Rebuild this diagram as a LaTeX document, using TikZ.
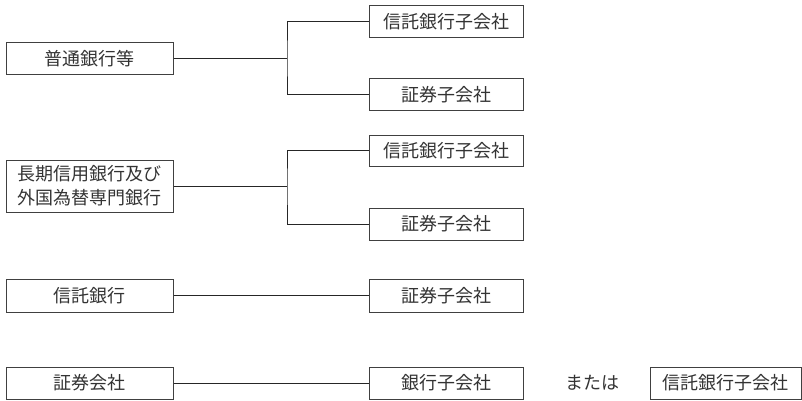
\documentclass[tikz,border=0pt]{standalone}
\usepackage{fontspec}
\setmainfont{Noto Sans CJK JP}
\begin{document}
\begin{tikzpicture}[x=1pt,y=-1pt,
  txt/.style={font=\fontsize{18}{24}\selectfont,text=black!80},
  box/.style={txt,draw=black!75,line width=1pt,rectangle,inner sep=0pt,minimum height=32pt},
  lbox/.style={box,minimum width=167pt},
  rbox/.style={box,minimum width=154pt},
  conn/.style={draw=black!85,line width=1pt}]
\useasboundingbox (0,0) rectangle (802,401);
% group 1
\node[lbox] (A) at (89.5,59) {普通銀行等};
\node[rbox] (A1) at (446,21.5) {信託銀行子会社};
\node[rbox] (A2) at (446,95) {証券子会社};
\coordinate (jA) at (287,59);
\draw[conn] (A.east) -- (jA);
\draw[conn] (A1.west) -| (jA) |- (A2.west);
% group 2
\node[lbox,minimum height=52pt,align=center] (B) at (89.5,186) {長期信用銀行及び\\外国為替専門銀行};
\node[rbox,minimum height=31pt] (B1) at (446,150.5) {信託銀行子会社};
\node[rbox] (B2) at (446,224) {証券子会社};
\coordinate (jB) at (287,186);
\draw[conn] (B.east) -- (jB);
\draw[conn] (B1.west) -| (jB) |- (B2.west);
% group 3
\node[lbox,minimum height=33pt] (C) at (89.5,295.5) {信託銀行};
\node[rbox,minimum height=33pt] (C1) at (446,295.5) {証券子会社};
\draw[conn] (C.east) -- (C1.west);
% group 4
\node[lbox] (D) at (89.5,383) {証券会社};
\node[rbox] (D1) at (446,383) {銀行子会社};
\node[txt,inner sep=0pt] (or) at (592,383) {または};
\node[box,minimum width=151pt] (D2) at (725.5,383) {信託銀行子会社};
\draw[conn] (D.east) -- (D1.west);
\end{tikzpicture}
\end{document}
